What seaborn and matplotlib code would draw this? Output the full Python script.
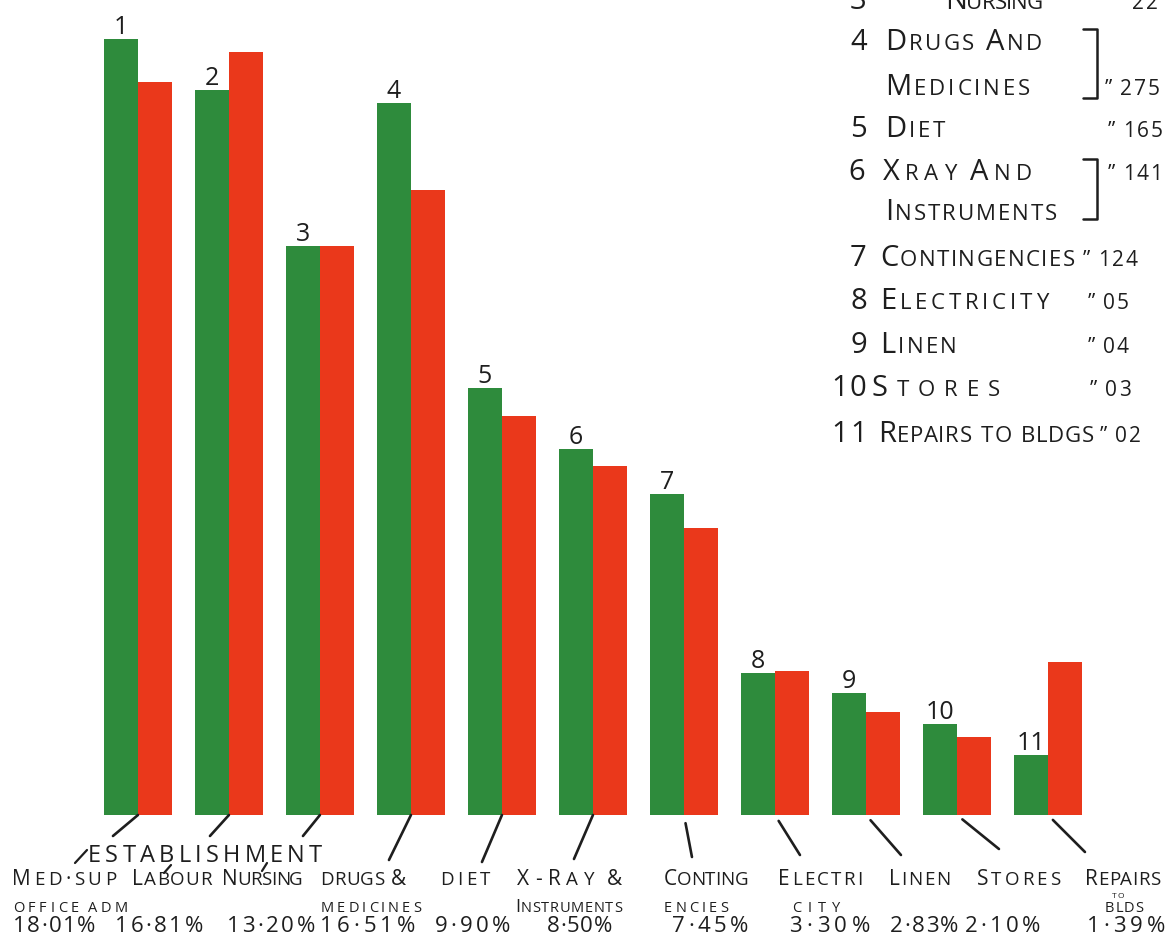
import matplotlib
matplotlib.use("Agg")
import matplotlib.pyplot as plt
import seaborn as sns
import pandas as pd
from matplotlib.lines import Line2D
from matplotlib.transforms import IdentityTransform

W, H = 1173, 937
GREEN = "#2e8b3c"
RED = "#ea381b"
INK = "#1e1e1e"

# percentage share of each head of expenditure (green) and the second series (red)
items = ["Med-sup office adm", "Labour", "Nursing", "Drugs & medicines", "Diet",
         "X-ray & instruments", "Contingencies", "Electricity", "Linen", "Stores",
         "Repairs to blds"]
green_share = [18.01, 16.81, 13.20, 16.51, 9.90, 8.50, 7.45, 3.30, 2.83, 2.10, 1.39]
red_share = [17.0, 17.7, 13.2, 14.5, 9.25, 8.1, 6.65, 3.35, 2.4, 1.8, 3.55]

# lettering under the bars
row1 = ["Med·sup", "Labour", "Nursing", "drugs &", "diet", "X-Ray &", "Conting",
        "Electri", "Linen", "Stores", "Repairs"]
row2 = ["office adm", "", "", "medicines", "", "Instruments", "encies", "city", "", "", "blds"]

# key at top right
key_nums = ["3", "4", "", "5", "6", "", "7", "8", "9", "10", "11"]
key_names = ["Nursing", "Drugs And", "Medicines", "Diet", "Xray And", "Instruments",
             "Contingencies", "Electricity", "Linen", "Stores", "Repairs to bldgs"]
key_vals = ["22", "", "275", "165", "141", "", "124", "05", "04", "03", "02"]

df = pd.DataFrame({
    "item": items * 2,
    "series": ["green"] * len(items) + ["red"] * len(items),
    "share": green_share + red_share,
})

sns.set_theme(style="white")
plt.rcParams["font.family"] = ["Open Sans", "DejaVu Sans"]

fig = plt.figure(figsize=(W / 100, H / 100), dpi=100)
fig.patch.set_facecolor("white")
ax = fig.add_axes([0, 121 / H, 1, 816 / H])
sns.barplot(data=df, x="item", y="share", hue="series", order=items,
            hue_order=["green", "red"], palette=[GREEN, RED], width=0.75,
            saturation=1, errorbar=None, legend=False, linewidth=0, ax=ax)
ax.set_xlim(-1.516, 11.374)
ax.set_ylim(0, 816 / 43.1)
ax.set_axis_off()

# bar numbers
for i, v in enumerate(green_share):
    ax.annotate(str(i + 1), xy=(i - 0.1875, v), xytext=(0, 6), textcoords="offset pixels",
                ha="center", va="baseline", fontsize=18, color=INK, annotation_clip=False)

# leader lines from the bars down to the lettering
leaders = [(-25, -21, 0), (-19, -21, 0), (-17, -21, 0), (-22, -45, 0), (-20, -47, 0),
           (-19, -44, 0), (8, -42, 6), (25, -40, 5), (35, -40, 5), (42, -34, 5), (37, -37, 5)]
for i, (dx, dy, sb) in enumerate(leaders):
    ax.annotate("", xy=(i, 0), xytext=(dx, dy), textcoords="offset pixels",
                annotation_clip=False,
                arrowprops=dict(arrowstyle="-", lw=1.9, color=INK, shrinkA=0, shrinkB=sb))

renderer = fig.canvas.get_renderer()


def lettering(x, y, s, big, small, width=None, space=None):
    # small-capital lettering: lower case letters drawn as smaller capitals,
    # spread so the word covers `width` pixels
    sp = space if space is not None else big * 0.3 * 100 / 72
    texts, widths = [], []
    for ch in s:
        if ch == " ":
            texts.append(None)
            widths.append(0)
            continue
        size = small if ch.islower() else big
        t = fig.text(0, (H - y) / H, ch.upper(), fontsize=size, color=INK,
                     va="baseline", ha="left")
        texts.append(t)
        widths.append(t.get_window_extent(renderer).width)
    n = sum(t is not None for t in texts)
    nsp = s.count(" ")
    if width is not None and n > 1:
        track = (width - sum(widths) - sp * nsp) / (n - 1)
    else:
        track = big * 0.08 * 100 / 72
    cur = x
    for t, w in zip(texts, widths):
        if t is None:
            cur += sp
            continue
        t.set_x(cur / W)
        cur += w + track


# lettering under the bars
row1_x = [12, 132, 222, 320, 440, 517, 664, 778, 889, 977, 1085]
row1_w = [104, 80, 81, 86, 50, 105, 84, 84, 61, 83, 75]
for s, x, w in zip(row1, row1_x, row1_w):
    lettering(x, 885, s, 15, 13.5, width=w)

row2_x = [13, 0, 0, 321, 0, 515, 664, 792, 0, 0, 1105]
row2_w = [115, 0, 0, 100, 0, 107, 64, 48, 0, 0, 38]
for s, x, w in zip(row2, row2_x, row2_w):
    if s:
        lettering(x, 912, s, 13, 10.5, width=w)
lettering(1112, 898, "to", 6, 6)

row3_x = [13, 115, 227, 320, 435, 547, 672, 789, 890, 965, 1087]
row3_w = [82, 88, 88, 95, 75, 65, 76, 81, 68, 75, 78]
for v, x, w in zip(green_share, row3_x, row3_w):
    lettering(x, 932, f"{v:.2f}".replace(".", "·") + "%", 16, 16, width=w)

lettering(88, 862, "ESTABLISHMENT", 17, 17, width=234)
for x0, y0, x1, y1 in [(87, 851, 75, 864), (171, 866, 164, 874), (267, 864, 262, 872)]:
    fig.add_artist(Line2D([x0, x1], [H - y0, H - y1], lw=1.6, color=INK,
                          transform=IdentityTransform()))

# key
key_y = [9, 50, 95, 137, 180, 220, 266, 309, 353, 396, 442]
key_num_x = [850, 850, 0, 850, 848, 0, 850, 850, 850, 831, 831]
key_name_x = [945, 885, 885, 885, 883, 885, 880, 880, 880, 872, 878]
key_name_w = [98, 157, 145, 60, 149, 172, 195, 168, 77, 128, 216]
key_val_x = [1117, 0, 1105, 1108, 1108, 0, 1083, 1088, 1088, 1090, 1100]
for num, name, val, y, nx, tx, tw, vx in zip(key_nums, key_names, key_vals, key_y,
                                           key_num_x, key_name_x, key_name_w, key_val_x):
    if num:
        lettering(nx, y, num, 21, 16)
    lettering(tx, y, name, 21, 16, width=tw)
    if val:
        lettering(vx, y, "” " + val, 15, 15)
lettering(897, 9, "”", 21, 16)

for top, bot in [(30, 99), (160, 220)]:
    fig.add_artist(Line2D([1083, 1097, 1097, 1083], [H - top, H - top, H - bot, H - bot],
                          lw=1.8, color=INK, transform=IdentityTransform()))

fig.savefig("out.png", dpi=100, facecolor="white")
